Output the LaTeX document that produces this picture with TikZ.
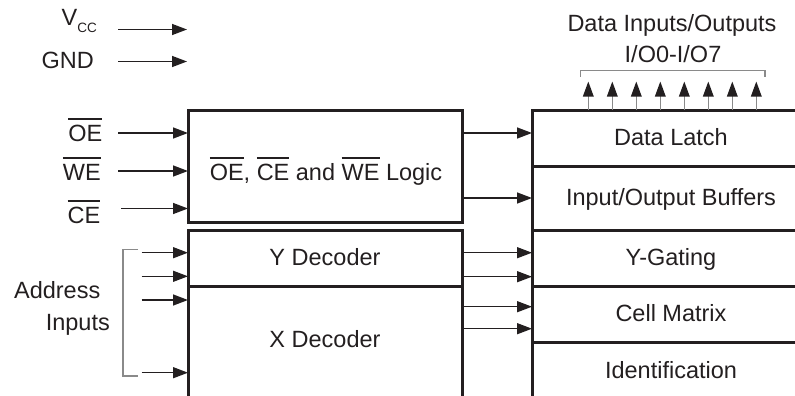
\documentclass[tikz,border=0pt]{standalone}
\usepackage{fontspec}
\setmainfont{Liberation Sans}
\usetikzlibrary{arrows.meta}
\definecolor{ink}{HTML}{231F20}
\definecolor{wire}{HTML}{8A8A8A}
\newcommand{\ovr}[1]{\leavevmode\vbox{\hrule height 1.7pt\kern 5pt\hbox{#1}}}

\begin{document}
\begin{tikzpicture}[x=1pt,y=-1pt,
   every node/.style={font=\fontsize{23.5}{28}\selectfont,text=ink,inner sep=0pt},
   blk/.style={draw=ink,line width=3pt,outer sep=0pt},
   box/.style={blk,text height=16pt,text depth=1.5pt},
   sig/.style={draw=ink,line width=1.4pt,-{Triangle[length=15pt,width=11pt]}},
   bus/.style={draw=wire,line width=1.6pt,-{Triangle[length=15pt,width=10.5pt,color=ink]}},
   brk/.style={draw=wire,line width=1.2pt}]
\useasboundingbox (0,0) rectangle (795,396);

% supply pins
\node[anchor=base east] (vcc) at (97,26) {V\raisebox{-7pt}{\fontsize{13.5}{15}\selectfont CC}};
\node[anchor=base east] (gnd) at (94,69) {GND};
\coordinate (vcc-tip) at (187,29.5);
\coordinate (gnd-tip) at (187,61.5);
\draw[sig] ([xshift=-69pt]vcc-tip) -- (vcc-tip);
\draw[sig] ([xshift=-69pt]gnd-tip) -- (gnd-tip);

% control logic
\node[blk,minimum width=274pt,minimum height=112pt] (logic) at (325,166) {};
\node[anchor=base] (logic-lbl) at (326,180) {\ovr{OE}, \ovr{CE} and \ovr{WE} Logic};
\node[anchor=base east] (oe) at (102.5,141) {\ovr{OE}};
\node[anchor=base east] (we) at (101,180) {\ovr{WE}};
\node[anchor=base east] (ce) at (100.5,223) {\ovr{CE}};
\coordinate (oe-in) at (118,133);
\coordinate (we-in) at (118,171);
\coordinate (ce-in) at (121,208.5);
\draw[sig] (oe-in) -- (oe-in -| logic.west);
\draw[sig] (we-in) -- (we-in -| logic.west);
\draw[sig] (ce-in) -- (ce-in -| logic.west);

% decoders
\node[box,minimum width=274pt,minimum height=56pt] (ydec) at (325,258) {Y Decoder};
\draw[blk] (ydec.south west) -- ++(0,115) (ydec.south east) -- ++(0,115);
\node[anchor=base] (xdec) at (325,347.5) {X Decoder};
\node[anchor=base east] (addr) at (100.5,298.7) {Address};
\node[anchor=base east] (addr-in) at (110,330) {Inputs};
\foreach \ya [count=\i] in {252.7,276.3,300,372.7}{
  \coordinate (ad\i) at (141.5,\ya);
  \draw[sig] (ad\i) -- (ad\i -| ydec.west);
}
\draw[brk] (138,249.5) -| (123,376) -- (138,376);

% memory column
\node[box,minimum width=278pt,minimum height=56pt] (latch) at (671,138) {Data Latch};
\node[box,minimum width=278pt,minimum height=64pt] (iob) at (671,198) {Input/Output Buffers};
\node[box,minimum width=278pt,minimum height=56pt] (ygate) at (671,258) {Y-Gating};
\node[box,minimum width=278pt,minimum height=56pt] (cell) at (671,314) {Cell Matrix};
\node[box,minimum width=278pt,minimum height=58pt] (ident) at (671,371) {Identification};

\coordinate (dl-in) at ([yshift=5pt]latch.west);
\draw[sig] (dl-in -| logic.east) -- (dl-in);
\draw[sig] (iob.west -| logic.east) -- (iob.west);
\foreach \dst/\dy [count=\i] in {ygate/5.3,ygate/-18.7,cell/7.3,cell/-14.7}{
  \coordinate (yx\i) at ([yshift=\dy pt]\dst.west);
  \draw[sig] (yx\i -| ydec.east) -- (yx\i);
}

% data bus
\node[anchor=base] (dio) at (672,31.7) {Data Inputs/Outputs};
\node[anchor=base] (iorange) at (673,62.7) {I/O0-I/O7};
\foreach \i in {0,...,7}{
  \coordinate (io\i) at ([xshift={(56.3+24*\i)*1pt}]latch.north west);
  \draw[bus] (io\i) -- ++(0,-28.5);
}
\draw[brk] (580.7,77) |- (765,70.7) -- (765,77);
\end{tikzpicture}
\end{document}
